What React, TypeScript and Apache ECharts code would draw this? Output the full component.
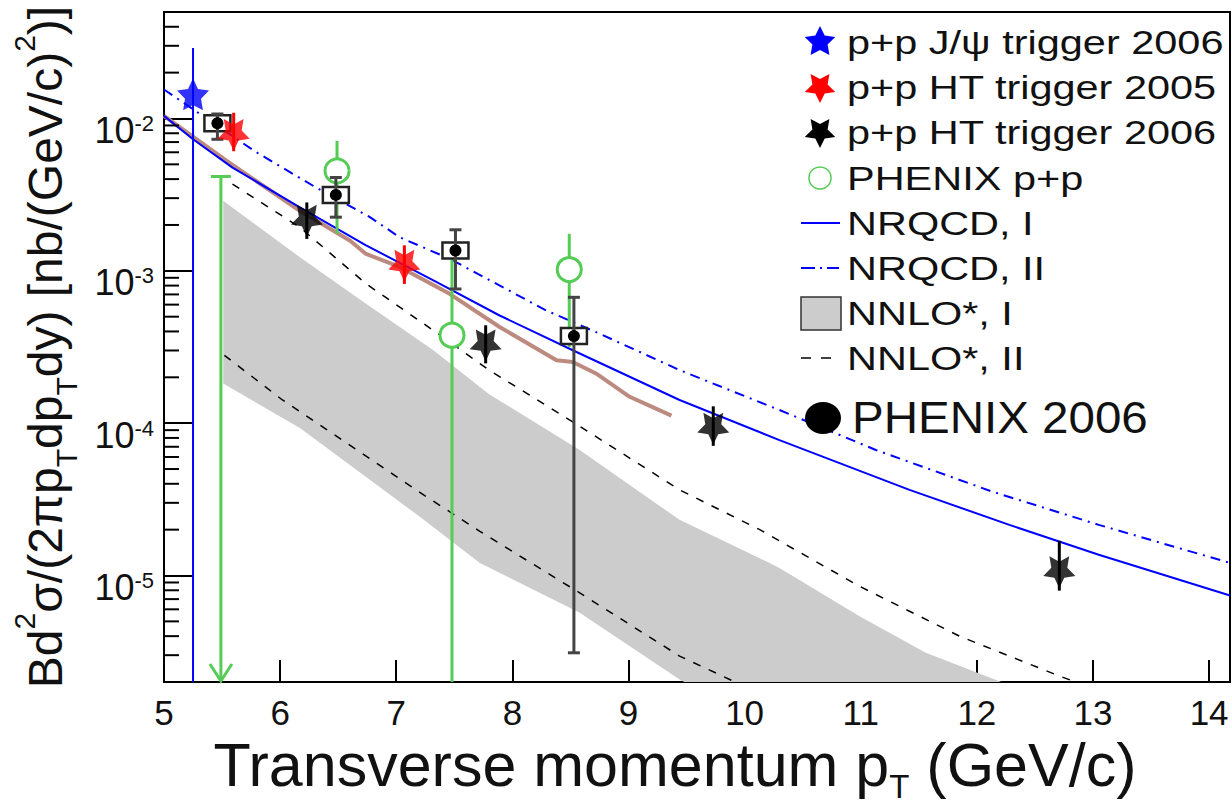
import React, { useEffect, useRef } from "react";
import * as echarts from "echarts";

const FONT = "'Liberation Sans', Arial, Helvetica, sans-serif";
const BLUE = "#0000ff";
const RED = "#ff0000";
const GREEN = "#55cc55";
const BAND = "#cccccc";
const BROWN = "#bc8a7e";

// axis ranges
const xMin = 5;
const xMax = 14.18;
const yMin = 2e-6;
const yMax = 0.05;

// ---- measured points: [pT, value] ; errors: [upper, lower]
const jpsiTrig2006 = [[5.25, 1.44e-2]];
const jpsiTrig2006Err = [[2.9e-2, 1e-7]];

const htTrig2005 = [[5.6, 7.8e-3], [7.07, 1.08e-3]];
const htTrig2005Err = [[1.09e-2, 6.1e-3], [1.47e-3, 8.2e-4]];

const htTrig2006 = [[6.23, 2.13e-3], [7.77, 3.24e-4], [9.73, 9.2e-5], [12.71, 1.05e-5]];
const htTrig2006Err = [[2.81e-3, 1.62e-3], [4.39e-4, 2.47e-4], [1.29e-4, 7.1e-5], [1.69e-5, 7.96e-6]];

const phenixPP = [[6.49, 4.53e-3], [7.48, 3.78e-4], [8.49, 1.02e-3]];
const phenixPPErr = [[7.13e-3, 1.75e-3], [1.3e-3, 1e-7], [1.75e-3, 3.16e-4]];
const phenixPPLimit = [[5.49, 4.16e-3]];

const phenix2006 = [[5.46, 9.3e-3], [6.48, 3.15e-3], [7.51, 1.36e-3], [8.53, 3.73e-4]];
const phenix2006Err = [[1.07e-2, 7.3e-3], [4.1e-3, 2.25e-3], [1.86e-3, 7.6e-4], [6.7e-4, 3.11e-6]];

// ---- theory curves
const nrqcdI = [[5.0, 1.04e-2], [5.25, 7.3e-3], [5.59, 4.76e-3], [6.17, 2.61e-3], [6.74, 1.47e-3], [7.32, 8.65e-4], [7.89, 5.09e-4], [8.52, 3.01e-4], [9.44, 1.42e-4], [10.30, 7.74e-5], [11.42, 3.65e-5], [12.28, 2.15e-5], [13.05, 1.37e-5], [14.18, 7.4e-6]];
const nrqcdII = [[5.0, 1.55e-2], [5.79, 6.04e-3], [6.31, 3.52e-3], [6.77, 2.26e-3], [7.03, 1.66e-3], [7.46, 1.2e-3], [8.29, 5.5e-4], [8.75, 3.87e-4], [9.44, 2.23e-4], [10.30, 1.22e-4], [11.13, 6.67e-5], [12.13, 3.56e-5], [13.05, 2.15e-5], [14.18, 1.21e-5]];
const nnloIUpper = [[5.51, 2.88e-3], [6.17, 1.23e-3], [6.74, 6.08e-4], [7.32, 3.01e-4], [7.80, 1.55e-4], [8.58, 6.67e-5], [9.09, 3.56e-5], [9.44, 2.32e-5], [10.13, 1.30e-5], [10.30, 1.12e-5], [10.99, 5.41e-6], [11.56, 3.11e-6], [12.21, 2.0e-6]];
const nnloILower = [[5.51, 1.82e-4], [6.17, 9.3e-5], [7.20, 2.44e-5], [7.72, 1.21e-5], [8.58, 5.69e-6], [9.44, 2.08e-6], [9.48, 2.0e-6]];
const nnloIIUpper = [[5.59, 3.71e-3], [6.17, 1.93e-3], [6.74, 8.22e-4], [7.32, 4.06e-4], [7.80, 2.23e-4], [8.52, 1.02e-4], [9.44, 3.65e-5], [10.13, 2.0e-5], [10.99, 8.49e-6], [11.85, 4.0e-6], [12.71, 2.19e-6], [12.85, 2.0e-6]];
const nnloIILower = [[5.52, 2.79e-4], [6.02, 1.42e-4], [6.45, 8.57e-5], [7.17, 3.65e-5], [7.72, 1.95e-5], [8.58, 7.69e-6], [9.44, 2.96e-6], [9.90, 2.03e-6]];
const otherCurve = [[5.0, 1.04e-2], [5.54, 5.27e-3], [6.17, 2.48e-3], [6.6, 1.58e-3], [6.74, 1.29e-3], [7.03, 1.06e-3], [7.46, 7.06e-4], [7.89, 4.28e-4], [8.38, 2.59e-4], [8.52, 2.52e-4], [8.72, 2.12e-4], [9.01, 1.49e-4], [9.37, 1.12e-4]];

// axis minor tick positions (log axis decades x 2..9)
const minorDecades = [1e-6, 1e-5, 1e-4, 1e-3, 1e-2];
const minorMult = [2, 3, 4, 5, 6, 7, 8, 9];

const legendLabels = [
  "p+p J/ψ trigger 2006",
  "p+p HT trigger 2005",
  "p+p HT trigger 2006",
  "PHENIX p+p",
  "NRQCD, I",
  "NRQCD, II",
  "NNLO*, I",
  "NNLO*, II",
];
const bigLegendLabel = "PHENIX 2006";

const STAR =
  "path://M0,-1L0.2939,-0.4045L0.9511,-0.309L0.4755,0.1545L0.5878,0.809L0,0.5L-0.5878,0.809L-0.4755,0.1545L-0.9511,-0.309L-0.2939,-0.4045Z";

function starPts(cx: number, cy: number, R: number, inv: boolean) {
  const pts: number[][] = [];
  for (let i = 0; i < 10; i++) {
    const r = i % 2 === 0 ? R : R * 0.5;
    const a = (Math.PI * i) / 5;
    const s = inv ? -1 : 1;
    pts.push([cx + r * Math.sin(a), cy - s * r * Math.cos(a)]);
  }
  return pts;
}

function errorBars(pts: number[][], errs: number[][], color: string, width: number, cap: number, z: number) {
  return {
    type: "custom",
    z,
    silent: true,
    clip: true,
    data: pts.map((p, i) => [p[0], p[1], errs[i][0], errs[i][1]]),
    encode: { x: 0, y: 1 },
    renderItem: (params: any, api: any) => {
      const cs = params.coordSys;
      const x = api.value(0);
      const hi = api.coord([x, api.value(2)]);
      const lo = api.coord([x, api.value(3)]);
      const top = cs.y;
      const bottom = cs.y + cs.height;
      const px = hi[0];
      const st = { stroke: color, lineWidth: width };
      const children: any[] = [
        { type: "line", shape: { x1: px, y1: Math.max(hi[1], top), x2: px, y2: Math.min(lo[1], bottom) }, style: st },
      ];
      if (cap > 0) {
        if (hi[1] >= top) children.push({ type: "line", shape: { x1: px - cap / 2, y1: hi[1], x2: px + cap / 2, y2: hi[1] }, style: st });
        if (lo[1] <= bottom) children.push({ type: "line", shape: { x1: px - cap / 2, y1: lo[1], x2: px + cap / 2, y2: lo[1] }, style: st });
      }
      return { type: "group", children };
    },
  };
}

function lineSeries(data: number[][], color: string, width: number, type: any, z: number) {
  return {
    type: "line",
    data,
    showSymbol: false,
    symbol: "none",
    silent: true,
    z,
    lineStyle: { color, width, type },
  };
}

function buildOption() {
  const minorTicks: number[][] = [];
  minorDecades.forEach((d) =>
    minorMult.forEach((m) => {
      const v = d * m;
      if (v > yMin && v < yMax) minorTicks.push([xMin, v]);
    })
  );

  const txt = (text: string, x: number, y: number, size: number, sx: number) => ({
    type: "text",
    x,
    y,
    scaleX: sx,
    z: 100,
    style: {
      text,
      fontSize: size,
      fontFamily: FONT,
      fill: "#111",
      textAlign: "left",
      align: "left",
      textVerticalAlign: "middle",
      verticalAlign: "middle",
    },
  });

  const rowY = [42, 87, 132, 178, 223, 268, 313, 358];
  const graphic: any[] = [
    { type: "polygon", z: 100, shape: { points: starPts(820, rowY[0], 16, false) }, style: { fill: BLUE } },
    { type: "polygon", z: 100, shape: { points: starPts(820, rowY[1], 16, true) }, style: { fill: RED } },
    { type: "polygon", z: 100, shape: { points: starPts(820, rowY[2], 16, true) }, style: { fill: "#000" } },
    { type: "circle", z: 100, shape: { cx: 820, cy: rowY[3], r: 11 }, style: { fill: "none", stroke: GREEN, lineWidth: 1.5 } },
    { type: "line", z: 100, shape: { x1: 801, y1: rowY[4], x2: 840, y2: rowY[4] }, style: { stroke: BLUE, lineWidth: 2 } },
    { type: "line", z: 100, shape: { x1: 801, y1: rowY[5], x2: 839, y2: rowY[5] }, style: { stroke: BLUE, lineWidth: 2, lineDash: [14, 5, 2, 5] } },
    { type: "rect", z: 100, shape: { x: 801, y: 297, width: 40, height: 33 }, style: { fill: BAND, stroke: "#333", lineWidth: 1.5 } },
    { type: "line", z: 100, shape: { x1: 801, y1: rowY[7], x2: 832, y2: rowY[7] }, style: { stroke: "#000", lineWidth: 1.5, lineDash: [10, 10] } },
    { type: "ellipse", z: 100, shape: { cx: 823, cy: 418, rx: 18, ry: 16 }, style: { fill: "#000" } },
  ];
  legendLabels.forEach((l, i) => graphic.push(txt(l, 847, rowY[i], 34, 1.22)));
  graphic.push(txt(bigLegendLabel, 852, 418, 44, 1.08));

  return {
    animation: false,
    grid: {
      left: 164,
      right: 2,
      top: 12,
      bottom: 124,
      containLabel: false,
      outerBoundsMode: "none",
      show: true,
      borderColor: "#000",
      borderWidth: 2,
    },
    xAxis: {
      type: "value",
      min: xMin,
      max: xMax,
      interval: 1,
      axisLine: { show: true, onZero: false, lineStyle: { color: "#000", width: 2 } },
      axisTick: { show: true, inside: true, length: 22, lineStyle: { color: "#000", width: 2 } },
      splitLine: { show: false },
      axisLabel: {
        fontSize: 35,
        color: "#111",
        fontFamily: FONT,
        margin: 13,
        formatter: (v: number) => (Math.abs(v - Math.round(v)) < 1e-6 ? String(Math.round(v)) : ""),
      },
      name: "{m|Transverse momentum p}{sub|T}{m| (GeV/c)}",
      nameLocation: "middle",
      nameGap: 19,
      nameTextStyle: {
        fontSize: 61,
        fontFamily: FONT,
        color: "#111",
        padding: [0, 44, 0, 0],
        rich: {
          m: { fontSize: 61, fontFamily: FONT, color: "#111", lineHeight: 68, verticalAlign: "top" },
          sub: { fontSize: 33, fontFamily: FONT, color: "#111", lineHeight: 33, verticalAlign: "bottom" },
        },
      },
    },
    yAxis: {
      type: "log",
      logBase: 10,
      min: yMin,
      max: yMax,
      axisLine: { show: true, lineStyle: { color: "#000", width: 2 } },
      axisTick: { show: true, inside: true, length: 28, lineStyle: { color: "#000", width: 2 } },
      minorTick: { show: false },
      splitLine: { show: false },
      axisLabel: {
        margin: 10,
        padding: [24, 0, 0, 0],
        formatter: (v: number) => {
          const l = Math.log10(v);
          const e = Math.round(l);
          if (Math.abs(l - e) > 1e-6) return "";
          return `{b|10}{s|${e}}`;
        },
        rich: {
          b: { fontSize: 36, lineHeight: 36, fontFamily: FONT, color: "#111", verticalAlign: "top" },
          s: { fontSize: 22, lineHeight: 22, fontFamily: FONT, color: "#111", verticalAlign: "top" },
        },
      },
      name: "{m|Bd}{sup|2}{m|σ/(2πp}{sub|T}{m|dp}{sub|T}{m|dy) [nb/(GeV/c)}{sup|2}{m|)]}",
      nameLocation: "middle",
      nameRotate: 90,
      nameGap: 83,
      nameTextStyle: {
        fontSize: 48,
        fontFamily: FONT,
        color: "#111",
        rich: {
          m: { fontSize: 48, fontFamily: FONT, color: "#111", lineHeight: 72, verticalAlign: "middle" },
          sup: { fontSize: 30, fontFamily: FONT, color: "#111", lineHeight: 30, verticalAlign: "top" },
          sub: { fontSize: 30, fontFamily: FONT, color: "#111", lineHeight: 30, verticalAlign: "bottom" },
        },
      },
    },
    graphic,
    series: [
      // NNLO* I band
      {
        type: "custom",
        z: 1,
        silent: true,
        clip: true,
        data: nnloIUpper,
        encode: { x: 0, y: 1 },
        renderItem: (params: any, api: any) => {
          if (params.dataIndex !== 0) return { type: "group", children: [] };
          const pts = nnloIUpper
            .map((p) => api.coord(p))
            .concat(nnloILower.slice().reverse().map((p) => api.coord(p)));
          return { type: "polygon", shape: { points: pts }, style: { fill: BAND } };
        },
      },
      lineSeries(nnloIIUpper, "#000", 1.5, [8, 9], 2),
      lineSeries(nnloIILower, "#000", 1.5, [8, 9], 2),
      lineSeries(otherCurve, BROWN, 4, "solid", 3),
      lineSeries(nrqcdI, BLUE, 2, "solid", 4),
      lineSeries(nrqcdII, BLUE, 2, [10, 6, 2, 6], 4),
      // minor ticks on y axis
      {
        type: "custom",
        z: 9,
        silent: true,
        data: minorTicks,
        encode: { x: 0, y: 1 },
        renderItem: (params: any, api: any) => {
          const cs = params.coordSys;
          const p = api.coord([api.value(0), api.value(1)]);
          return {
            type: "line",
            shape: { x1: cs.x, y1: p[1], x2: cs.x + 15, y2: p[1] },
            style: { stroke: "#000", lineWidth: 2 },
          };
        },
      },
      // PHENIX p+p upper limit
      {
        type: "custom",
        z: 5,
        silent: true,
        data: phenixPPLimit,
        encode: { x: 0, y: 1 },
        renderItem: (params: any, api: any) => {
          const cs = params.coordSys;
          const p = api.coord([api.value(0), api.value(1)]);
          const bottom = cs.y + cs.height - 1;
          const st = { stroke: GREEN, lineWidth: 3, fill: "none" };
          return {
            type: "group",
            children: [
              { type: "line", shape: { x1: p[0], y1: p[1], x2: p[0], y2: bottom }, style: st },
              { type: "line", shape: { x1: p[0] - 10, y1: p[1], x2: p[0] + 10, y2: p[1] }, style: st },
              { type: "polyline", shape: { points: [[p[0] - 11, bottom - 17], [p[0], bottom], [p[0] + 11, bottom - 17]] }, style: st },
            ],
          };
        },
      },
      errorBars(phenixPP, phenixPPErr, GREEN, 3, 0, 5),
      {
        type: "scatter",
        z: 6,
        silent: true,
        data: phenixPP,
        symbol: "circle",
        symbolSize: 24,
        itemStyle: { color: "#fff", borderColor: GREEN, borderWidth: 3, opacity: 1 },
      },
      // PHENIX 2006
      {
        type: "custom",
        z: 7,
        silent: true,
        clip: true,
        data: phenix2006.map((p, i) => [p[0], p[1], phenix2006Err[i][0], phenix2006Err[i][1]]),
        encode: { x: 0, y: 1 },
        renderItem: (params: any, api: any) => {
          const cs = params.coordSys;
          const x = api.value(0);
          const c = api.coord([x, api.value(1)]);
          const hi = api.coord([x, api.value(2)]);
          const lo = api.coord([x, api.value(3)]);
          const bottom = cs.y + cs.height;
          const st = { stroke: "#444", lineWidth: 3 };
          return {
            type: "group",
            children: [
              { type: "rect", shape: { x: c[0] - 13, y: c[1] - 8, width: 26, height: 16 }, style: { fill: "#fff", stroke: "#222", lineWidth: 2.5 } },
              { type: "line", shape: { x1: c[0], y1: hi[1], x2: c[0], y2: Math.min(lo[1], bottom) }, style: st },
              { type: "line", shape: { x1: c[0] - 6, y1: hi[1], x2: c[0] + 6, y2: hi[1] }, style: st },
              { type: "line", shape: { x1: c[0] - 6, y1: lo[1], x2: c[0] + 6, y2: lo[1] }, style: st },
              { type: "circle", shape: { cx: c[0], cy: c[1], r: 6 }, style: { fill: "#000" } },
            ],
          };
        },
      },
      // STAR stars
      errorBars(jpsiTrig2006, jpsiTrig2006Err, BLUE, 2, 0, 5),
      errorBars(htTrig2005, htTrig2005Err, RED, 3, 0, 5),
      errorBars(htTrig2006, htTrig2006Err, "#000", 3, 0, 5),
      {
        type: "scatter",
        z: 8,
        silent: true,
        data: jpsiTrig2006,
        symbol: STAR,
        symbolSize: 32,
        itemStyle: { color: BLUE },
      },
      {
        type: "scatter",
        z: 8,
        silent: true,
        data: htTrig2005,
        symbol: STAR,
        symbolSize: 32,
        symbolRotate: 180,
        itemStyle: { color: RED },
      },
      {
        type: "scatter",
        z: 8,
        silent: true,
        data: htTrig2006,
        symbol: STAR,
        symbolSize: 32,
        symbolRotate: 180,
        itemStyle: { color: "#000" },
      },
    ],
  };
}

export default function App() {
  const ref = useRef<HTMLDivElement>(null);
  useEffect(() => {
    document.body.style.margin = "0";
    const chart = echarts.init(ref.current as HTMLDivElement, null, { renderer: "svg" });
    chart.setOption(buildOption() as any);
    return () => chart.dispose();
  }, []);
  return <div ref={ref} style={{ width: 1232, height: 806, background: "#fff" }} />;
}
